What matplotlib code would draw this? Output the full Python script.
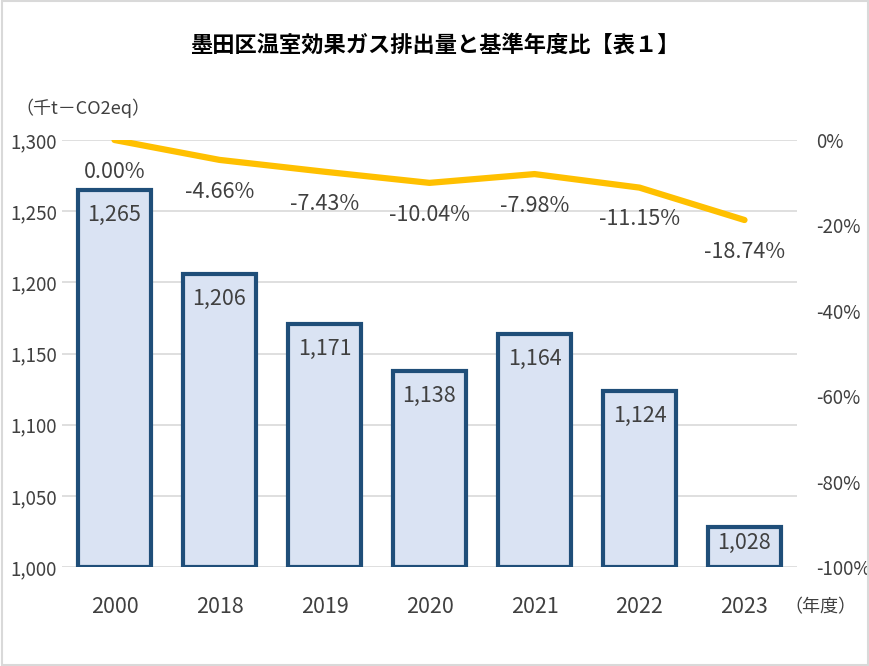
import matplotlib
matplotlib.use("Agg")
import matplotlib.pyplot as plt
from matplotlib.patches import Rectangle

plt.rcParams['font.family'] = ['Noto Sans CJK JP', 'DejaVu Sans']

# data
years = ["2000", "2018", "2019", "2020", "2021", "2022", "2023"]
emissions = [1265, 1206, 1171, 1138, 1164, 1124, 1028]
ratio = [0.00, -4.66, -7.43, -10.04, -7.98, -11.15, -18.74]
left_ticks = [1000, 1050, 1100, 1150, 1200, 1250, 1300]
right_ticks = [-100, -80, -60, -40, -20, 0]

txt = "#404040"
fig = plt.figure(figsize=(8.7, 6.66), dpi=100)
ax = fig.add_axes([62/870, 1-567/666, 735/870, 427/666])
ax2 = ax.twinx()

x = list(range(len(years)))
ax.bar(x, [e - 1000 for e in emissions], bottom=1000, width=0.69,
       color="#DAE3F3", edgecolor="#1F4E79", linewidth=3, zorder=3)
# labels sit inside the bar top, pushed up when the bar is short
for i, e in enumerate(emissions):
    ax.text(i, max(e - 18, 1017), f"{e:,}", ha="center", va="center",
            fontsize=15.5, color=txt, zorder=4)

ax.set_ylim(1000, 1300)
ax.set_xlim(-0.5, len(years) - 0.5)
ax.set_yticks(left_ticks)
ax.set_yticklabels([f"{v:,}" for v in left_ticks])
ax.set_xticks(x)
ax.set_xticklabels(years)
ax.grid(axis="y", color="#d9d9d9", linewidth=1.2, zorder=0)
ax.tick_params(length=0, labelsize=13.5, colors=txt)
ax.tick_params(axis="x", pad=21, labelsize=15.5)
for s in ax.spines.values():
    s.set_visible(False)

ax2.plot(x, ratio, color="#FFC000", linewidth=4.5, zorder=5, solid_capstyle="round")
for i, r in enumerate(ratio):
    ax2.annotate(f"{r:.2f}%", (i, r), xytext=(0, -15), textcoords="offset points",
                 ha="center", va="top", fontsize=15.5, color=txt)
ax2.set_ylim(-100, 0)
ax2.set_yticks(right_ticks)
ax2.set_yticklabels([f"{v}%" for v in right_ticks])
ax2.tick_params(length=0, labelsize=13.5, colors=txt, pad=14)
for s in ax2.spines.values():
    s.set_visible(False)

fig.text(0.5, 1-45/666, "墨田区温室効果ガス排出量と基準年度比【表１】",
         ha="center", va="center", fontsize=16, fontweight="bold", color="black")
fig.text(15/870, 1-108/666, "（千t－CO2eq）", ha="left", va="center",
         fontsize=13, color=txt)
fig.text(820/870, 1-607/666, "（年度）", ha="center", va="center",
         fontsize=13, color=txt)

fig.patches.append(Rectangle((0.002, 0.002), 0.996, 0.996, transform=fig.transFigure,
                             fill=False, edgecolor="#d9d9d9", linewidth=1.5))

fig.savefig("out.png", dpi=100)
